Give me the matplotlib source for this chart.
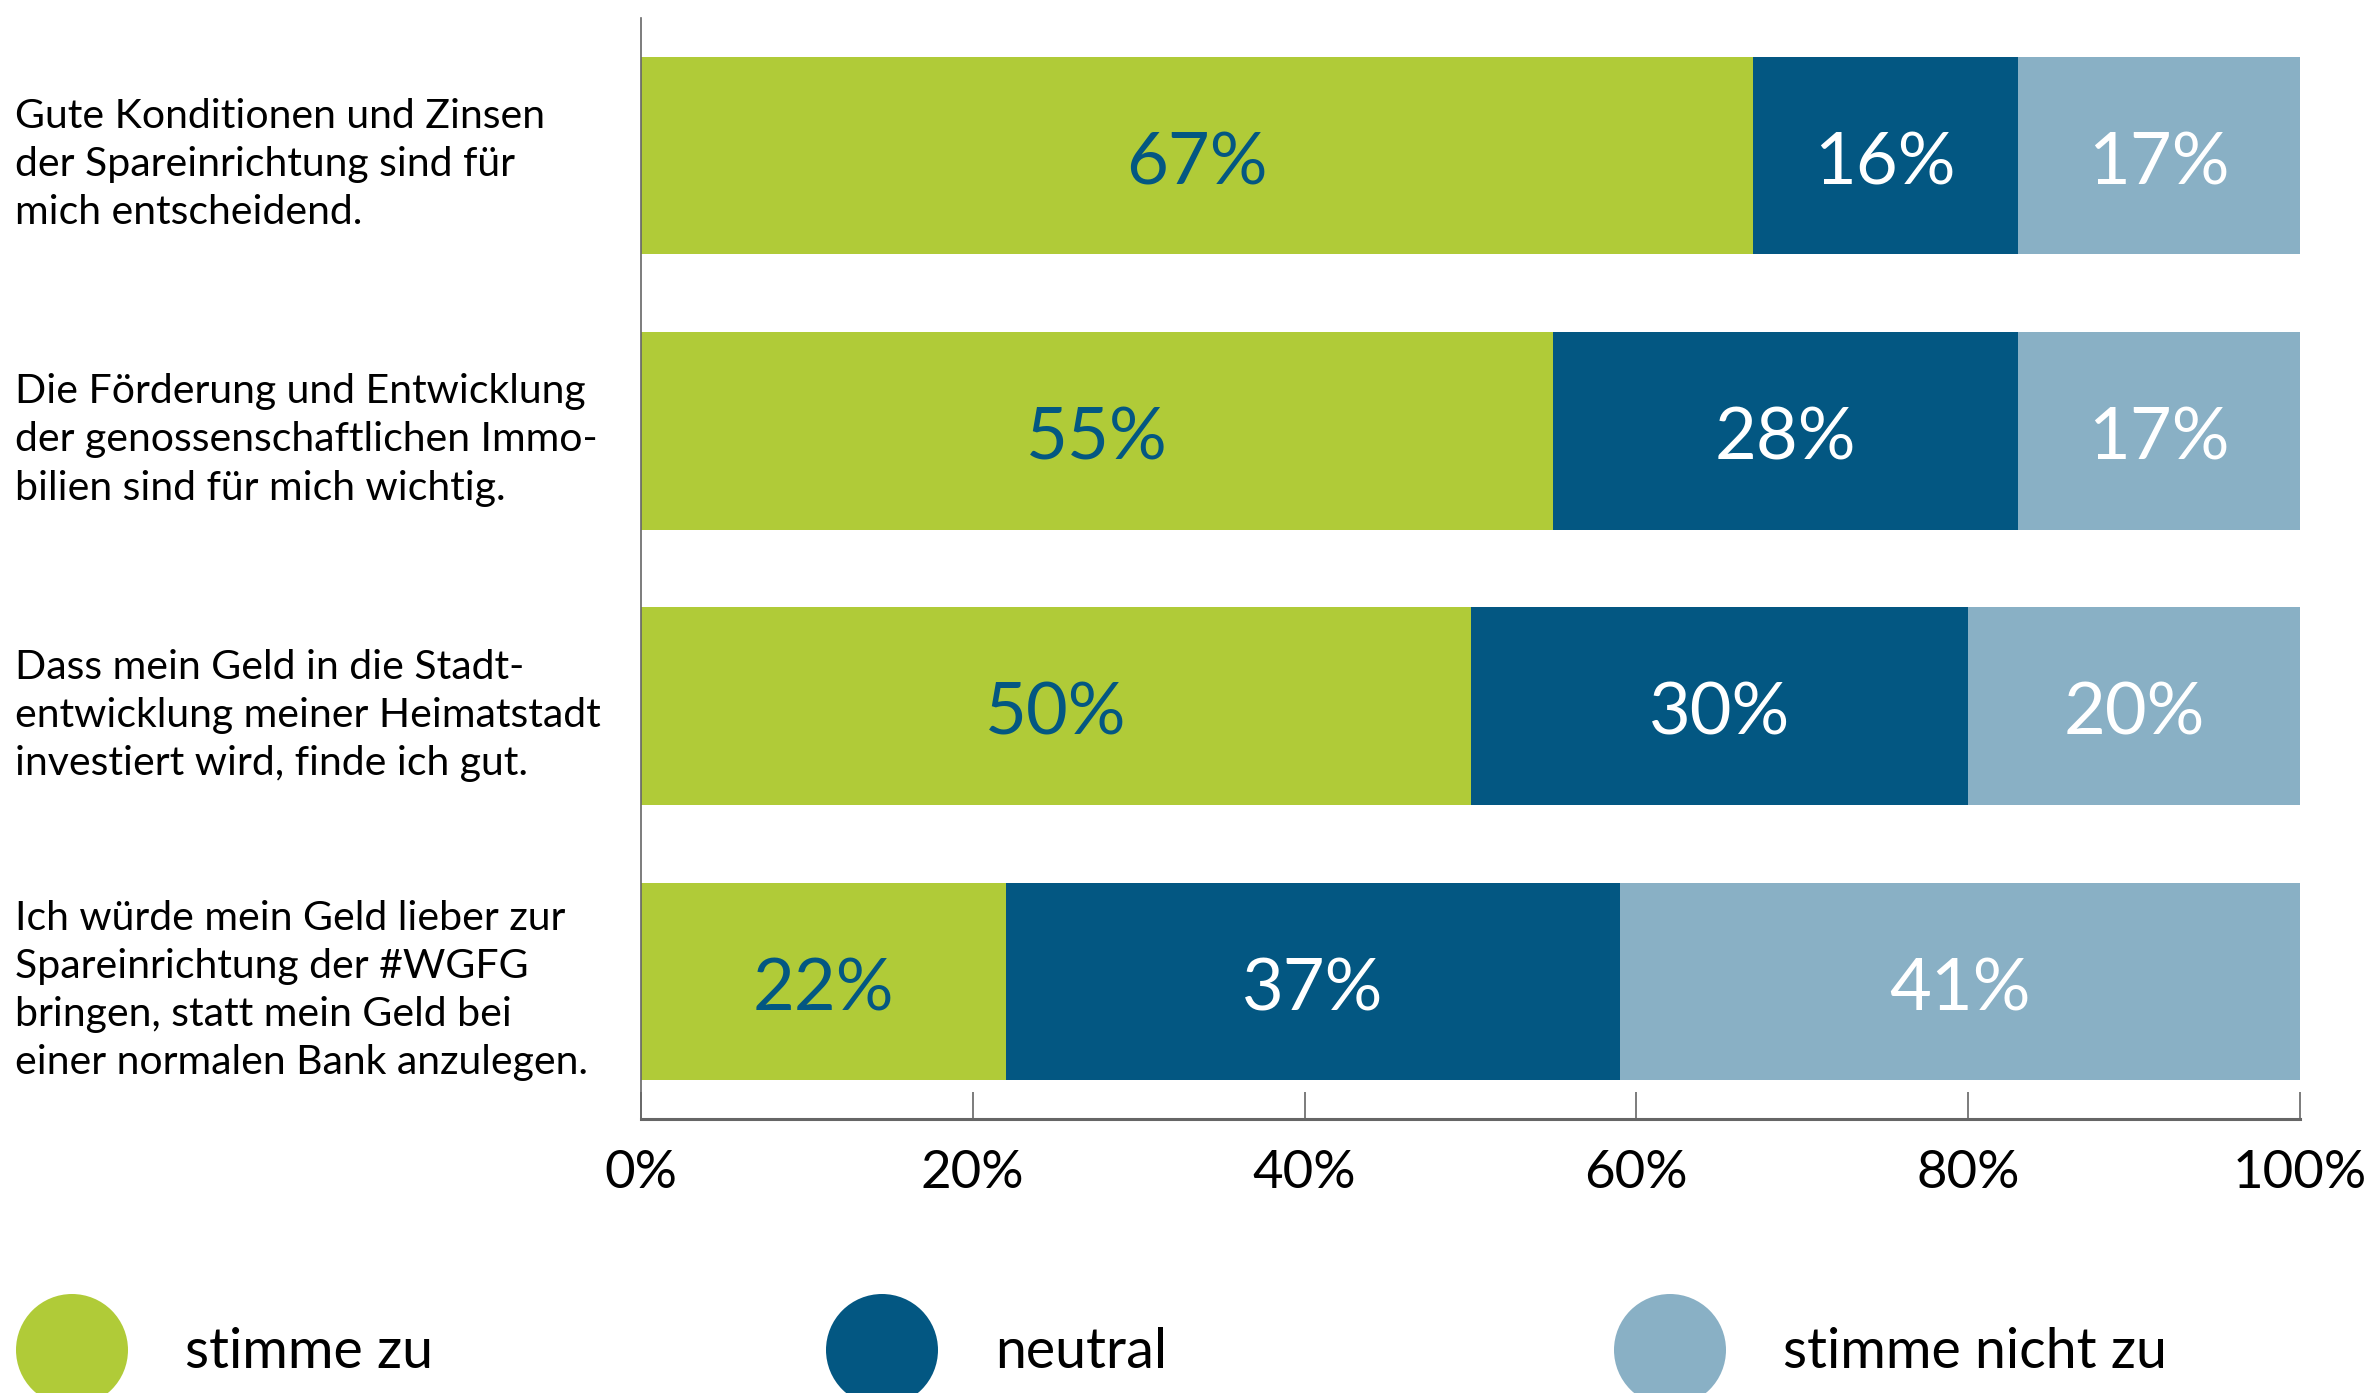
import matplotlib
matplotlib.use("Agg")
import matplotlib.pyplot as plt
from matplotlib.patches import Circle
import numpy as np

plt.rcParams['font.family'] = ['Lato', 'DejaVu Sans']

categories = [
    "Gute Konditionen und Zinsen\nder Spareinrichtung sind für\nmich entscheidend.",
    "Die Förderung und Entwicklung\nder genossenschaftlichen Immo-\nbilien sind für mich wichtig.",
    "Dass mein Geld in die Stadt-\nentwicklung meiner Heimatstadt\ninvestiert wird, finde ich gut.",
    "Ich würde mein Geld lieber zur\nSpareinrichtung der #WGFG\nbringen, statt mein Geld bei\neiner normalen Bank anzulegen.",
]
series_names = ["stimme zu", "neutral", "stimme nicht zu"]
agree = [67, 55, 50, 22]
neutral = [16, 28, 30, 37]
disagree = [17, 17, 20, 41]
xticks = [0, 20, 40, 60, 80, 100]
xtick_labels = ["0%", "20%", "40%", "60%", "80%", "100%"]

colors = ["#B0CB38", "#035782", "#89B0C5"]
text_colors = ["#035782", "white", "white"]

W, H = 2365, 1393
dpi = 100
fig = plt.figure(figsize=(W / dpi, H / dpi), dpi=dpi)
ax = fig.add_axes([641 / W, 1 - 1119 / H, (2300 - 641) / W, (1119 - 18) / H])

y = np.arange(len(categories))
left = np.zeros(len(categories))
for vals, col, tcol in zip([agree, neutral, disagree], colors, text_colors):
    vals = np.array(vals, dtype=float)
    ax.barh(y, vals, left=left, height=0.717, color=col, edgecolor='none')
    for yi, l, v in zip(y, left, vals):
        ax.text(l + v / 2, yi + 0.03, f"{int(v)}%", ha='center', va='center',
                color=tcol, fontsize=52)
    left += vals

ax.set_xlim(0, 100)
ax.set_ylim(3.5, -0.5)

ax.set_xticks(xticks)
ax.set_xticklabels(xtick_labels, fontsize=38)
ax.tick_params(axis='x', direction='in', length=19.5, width=1.2, color='#666666', pad=22)
ax.set_yticks(y)
ax.set_yticklabels(categories, fontsize=29.5)
ax.tick_params(axis='y', length=0, pad=(641 - 15) * 72 / dpi)
for lbl in ax.get_yticklabels():
    lbl.set_ha('left')
    lbl.set_linespacing(1.37)

for s in ['top', 'right']:
    ax.spines[s].set_visible(False)
ax.spines['left'].set_color('#666666')
ax.spines['left'].set_linewidth(1.2)
ax.spines['bottom'].set_color('#666666')
ax.spines['bottom'].set_linewidth(2.2)

# legend
lax = fig.add_axes([0, 0, 1, 1], zorder=-1)
lax.set_xlim(0, W)
lax.set_ylim(H, 0)
lax.axis('off')
leg_cx = [72, 882, 1670]
leg_tx = [185, 995, 1783]
for name, col, cx, tx in zip(series_names, colors, leg_cx, leg_tx):
    lax.add_patch(Circle((cx, 1350), 56, color=col, ec='none'))
    lax.text(tx, 1352, name, ha='left', va='center', fontsize=40, color='black')

fig.savefig("out.png", dpi=dpi)
